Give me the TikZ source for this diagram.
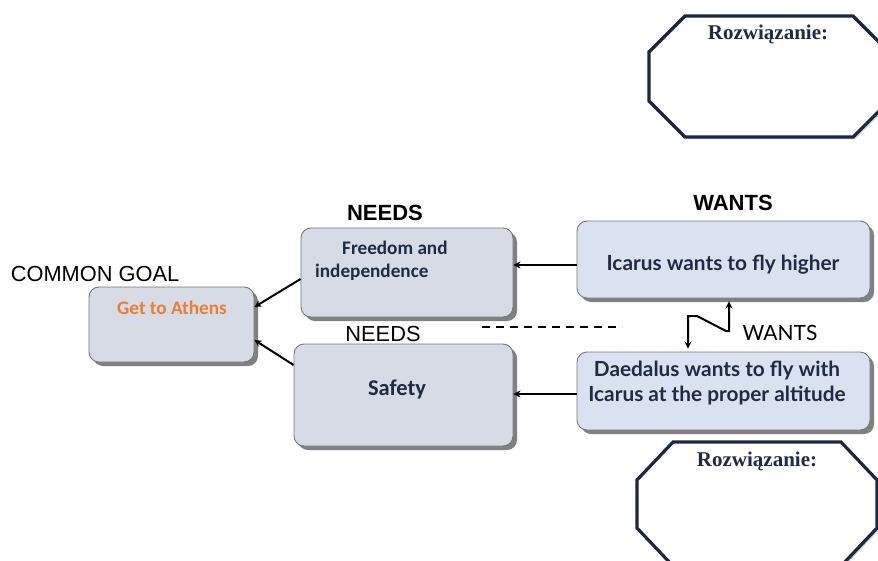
\documentclass[tikz,border=0pt]{standalone}
\usepackage{fontspec}
\setmainfont{Liberation Sans}
\newfontfamily\calfont{Carlito}
\newfontfamily\gillfont{Lato}
\newfontfamily\serffont{Liberation Serif}
\usetikzlibrary{arrows.meta,shadows}
\definecolor{boxL}{RGB}{214,219,229}
\definecolor{boxR}{RGB}{218,226,242}
\definecolor{boxline}{RGB}{120,120,120}
\definecolor{navy}{RGB}{31,42,68}
\definecolor{octline}{RGB}{28,40,65}
\definecolor{orng}{RGB}{237,125,49}
\tikzset{
  box/.style={draw=boxline, line width=0.9pt, rounded corners=10pt, inner sep=0pt,
    drop shadow={shadow xshift=4pt, shadow yshift=-4pt, fill=black!50, opacity=1}},
  boxl/.style={box, fill=boxL},
  boxr/.style={box, fill=boxR},
  arr/.style={line width=2pt, -{Stealth[length=7pt,width=7pt]}},
  dblarr/.style={line width=2pt, {Stealth[length=7pt,width=7pt]}-{Stealth[length=7pt,width=7pt]}},
  oct/.style={draw=octline, line width=3.2pt, fill=white, line join=miter,
    drop shadow={shadow xshift=2pt, shadow yshift=-2pt, fill=black!20, opacity=1}},
  hdr/.style={font=\fontsize{22}{26}\selectfont\bfseries, inner sep=0pt},
  lbl/.style={font=\fontsize{21.8}{26}\selectfont, inner sep=0pt},
  ctxt/.style={font=\calfont\bfseries\fontsize{19.2}{23}\selectfont, text=navy, inner sep=0pt},
  gtxt/.style={font=\gillfont\bfseries\fontsize{20.8}{25}\selectfont, text=navy, inner sep=0pt, align=center},
  soltxt/.style={font=\serffont\bfseries\fontsize{21}{24}\selectfont, text=navy, inner sep=0pt}
}
\begin{document}
\begin{tikzpicture}[x=1pt, y=1pt]
\clip (0,0) rectangle (878,-560);
\fill[white] (0,0) rectangle (878,-560);

% Octagons
\draw[oct] (649,-52) -- (685,-16) -- (853,-16) -- (889,-52) -- (889,-101) -- (853,-137) -- (685,-137) -- (649,-101) -- cycle;
\node[soltxt] (sol1) at (768,-34) {Rozwiązanie:};
\draw[oct] (637,-480) -- (673,-442) -- (841,-442) -- (877,-480) -- (877,-528) -- (841,-566) -- (673,-566) -- (637,-528) -- cycle;
\node[soltxt] (sol2) at (757,-461) {Rozwiązanie:};

% Boxes
\node[boxl, minimum width=165pt, minimum height=75pt] (athens) at (171.5,-324.5) {};
\node[boxl, minimum width=212pt, minimum height=89pt] (freedom) at (407,-272.5) {};
\node[boxl, minimum width=219pt, minimum height=102pt] (safety) at (403.5,-395) {};
\node[boxr, minimum width=293pt, minimum height=77pt] (icarus) at (723.5,-259.5) {};
\node[boxr, minimum width=293pt, minimum height=78pt] (daed) at (723.5,-391) {};

% Box texts
\node[ctxt, text=orng] (tathens) at (172,-308) {Get to Athens};
\node[ctxt, anchor=west, align=left] (tfreedom) at (315,-260.5) {\hspace{27pt}Freedom and\\independence};
\node[ctxt, font=\calfont\bfseries\fontsize{22.5}{25}\selectfont] (tsafety) at (397,-389) {Safety};
\node[gtxt] (ticarus) at (723,-265) {Icarus wants to fly higher};
\node[gtxt] (tdaed) at (717,-383) {Daedalus wants to fly with\\Icarus at the proper altitude};

% Labels
\node[hdr] (needs1) at (385,-213) {NEEDS};
\node[hdr] (wants1) at (733,-203) {WANTS};
\node[lbl] (goal) at (95,-274) {COMMON GOAL};
\node[lbl] (needs2) at (383,-334) {NEEDS};
\node[lbl, font=\gillfont\fontsize{21}{24}\selectfont] (wants2) at (780,-333) {WANTS};

% Connectors
\draw[arr] (icarus.west |- 0,-265) -- (freedom.east |- 0,-265);
\draw[arr] (daed.west |- 0,-394) -- (safety.east |- 0,-394);
\draw[arr] (freedom.west |- 0,-279) -- (athens.east |- 0,-307);
\draw[arr] (safety.west |- 0,-365) -- (athens.east |- 0,-340);

\coordinate (z1) at (688,-316);
\coordinate (z2) at (697,-316);
\coordinate (z3) at (726,-331);
\coordinate (z4) at (729,-331);
\draw[dblarr, line join=miter] ([yshift=3pt]daed.north -| z1) -- (z1) -- (z2) -- (z3) -- (z4) -- ([yshift=-3pt]icarus.south -| z4);

\coordinate (d1) at (482,-327);
\coordinate (d2) at (622,-327);
\draw[line width=1.5pt, dash pattern=on 8pt off 6pt] (d1) -- (d2);
\end{tikzpicture}
\end{document}
